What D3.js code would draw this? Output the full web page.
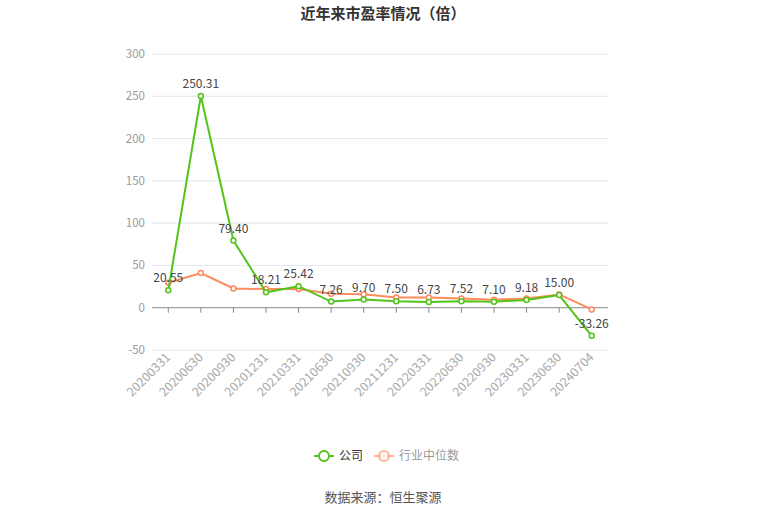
<!DOCTYPE html>
<html><head><meta charset="utf-8">
<script src="https://cdn.jsdelivr.net/npm/d3@7/dist/d3.min.js"></script>
<style>body{margin:0;background:#fff;font-family:"Noto Sans CJK SC","Noto Sans",sans-serif;}</style>
</head><body><svg id="c" width="765" height="517"></svg>
<script>
const categories = ["20200331","20200630","20200930","20201231","20210331","20210630","20210930","20211231","20220331","20220630","20220930","20230331","20230630","20240704"];
const companyPE = [20.55,250.31,79.40,18.21,25.42,7.26,9.70,7.50,6.73,7.52,7.10,9.18,15.00,-33.26];
const industryPE = [29.5,41.0,22.8,22.0,22.0,16.5,16.0,12.2,12.2,11.0,9.5,11.0,15.7,-2.0];
const yTicks = [-50,0,50,100,150,200,250,300];
const seriesNames = ["公司","行业中位数"];
const colors = ["#52c41a","#ff8a5b"];

(function(){
const svg = d3.select("#c");
const pl = 152, pr = 608, pt = 54, pb = 350;
const x = d3.scaleBand().domain(categories).range([pl,pr]);
const y = d3.scaleLinear().domain([-50,300]).range([pb,pt]);
const cx = d => x(d) + x.bandwidth()/2;

svg.append("text").attr("x",383).attr("y",19).attr("text-anchor","middle")
  .attr("font-size",15).attr("font-weight","bold").attr("fill","#333").text("近年来市盈率情况（倍）");

svg.append("g").selectAll("line").data(yTicks.filter(t=>t!==0)).join("line")
  .attr("x1",pl).attr("x2",pr).attr("y1",d=>y(d)).attr("y2",d=>y(d))
  .attr("stroke","#e3e6f0").attr("stroke-width",1);
svg.append("g").selectAll("text").data(yTicks).join("text")
  .attr("x",145).attr("y",d=>y(d)+4).attr("text-anchor","end")
  .attr("font-size",11.5).attr("fill","#999").text(d=>d);
svg.append("line").attr("x1",pl).attr("x2",pr).attr("y1",y(0)).attr("y2",y(0)).attr("stroke","#888");
svg.append("g").selectAll("line").data(categories).join("line")
  .attr("x1",d=>cx(d)).attr("x2",d=>cx(d)).attr("y1",y(0)).attr("y2",y(0)+5).attr("stroke","#888");
svg.append("g").selectAll("text").data(categories).join("text")
  .attr("transform",d=>`translate(${cx(d)+3},${pb+8}) rotate(-45)`)
  .attr("text-anchor","end").attr("font-size",12.5).attr("fill","#aaa").text(d=>d);

const line = d3.line().x((d,i)=>cx(categories[i])).y(d=>y(d));
[industryPE, companyPE].forEach((arr,k)=>{
  const col = k===0 ? colors[1] : colors[0];
  svg.append("path").datum(arr).attr("d",line).attr("fill","none").attr("stroke",col).attr("stroke-width",2);
  svg.append("g").selectAll("circle").data(arr).join("circle")
    .attr("cx",(d,i)=>cx(categories[i])).attr("cy",d=>y(d)).attr("r",2.5)
    .attr("fill","#fff").attr("stroke",col).attr("stroke-width",1.5);
});
svg.append("g").selectAll("text").data(companyPE).join("text")
  .attr("x",(d,i)=>cx(categories[i])).attr("y",d=>y(d)-8).attr("text-anchor","middle")
  .attr("font-size",12).attr("fill","#444").text(d=>d.toFixed(2));

const lg = svg.append("g");
[[314,colors[0],1,"#333"],[374,colors[1],0.6,"#999"]].forEach(([lx,col,op,tc],i)=>{
  const g = lg.append("g");
  g.append("line").attr("x1",lx).attr("x2",lx+20).attr("y1",456).attr("y2",456).attr("stroke",col).attr("stroke-width",2).attr("opacity",op);
  g.append("circle").attr("cx",lx+10).attr("cy",456).attr("r",5).attr("fill","#fff").attr("stroke",col).attr("stroke-width",2).attr("opacity",op);
  g.append("text").attr("x",lx+25).attr("y",460).attr("font-size",12).attr("fill",tc).text(seriesNames[i]);
});

svg.append("text").attr("x",383).attr("y",502).attr("text-anchor","middle")
  .attr("font-size",13).attr("fill","#555").text("数据来源：恒生聚源");
})();
</script></body></html>
